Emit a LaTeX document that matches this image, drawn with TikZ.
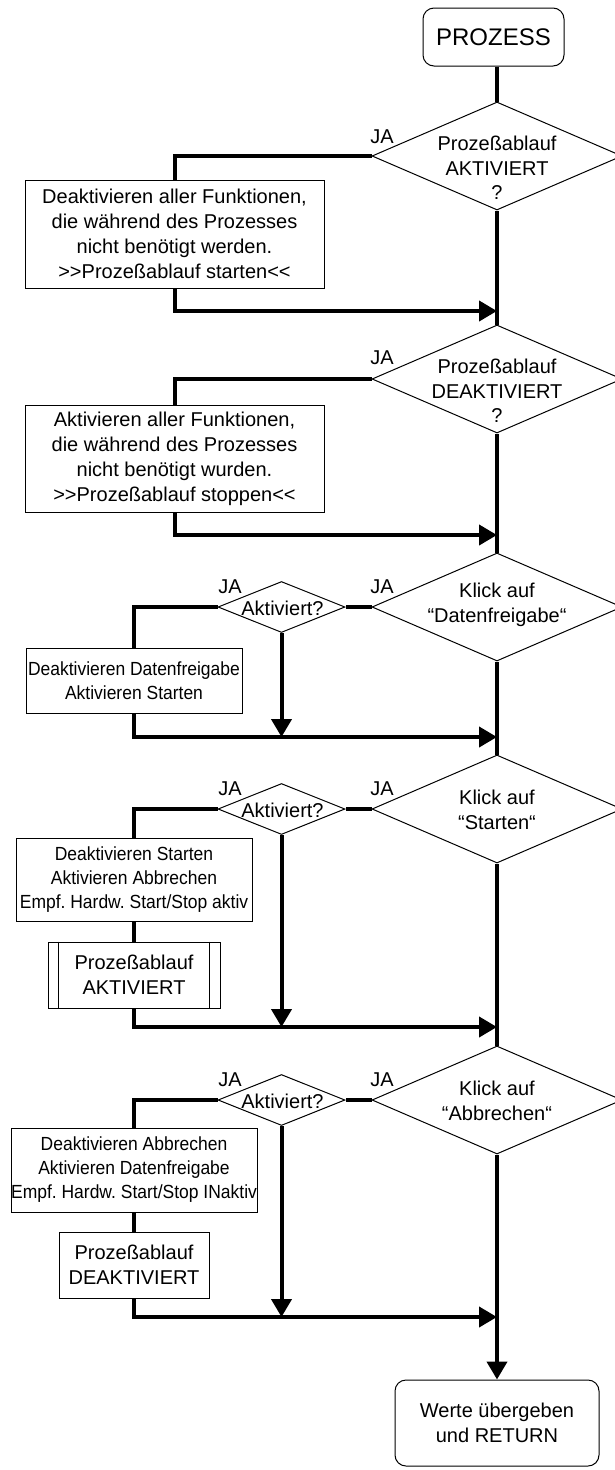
\documentclass[tikz,border=0pt]{standalone}
\usepackage{fontspec}
\setmainfont{Liberation Sans}
\newfontfamily\narrowsans[FakeStretch=0.92]{Liberation Sans}
\frenchspacing
\usetikzlibrary{shapes.geometric,arrows.meta,calc}
\begin{document}
\begin{tikzpicture}[x=1pt,y=-1pt,
  flow/.style={line width=4pt},
  arr/.style={flow,-{Triangle[length=18pt,width=20pt]}},
  shape line/.style={draw,line width=1pt},
  box/.style={shape line,rectangle,inner sep=0pt,align=center,
    font=\fontsize{20}{25}\selectfont},
  smallbox/.style={box,font=\narrowsans\fontsize{19}{24}\selectfont},
  term/.style={box,rounded corners=11pt},
  bigdia/.style={shape line,diamond,inner sep=0pt,minimum width=250pt,minimum height=108pt},
  smalldia/.style={shape line,diamond,inner sep=0pt,minimum width=127pt,minimum height=51pt},
  dtext/.style={align=center,inner sep=0pt,font=\fontsize{20}{24.5}\selectfont},
  ja/.style={inner sep=0pt,font=\fontsize{20}{24}\selectfont}
]
\useasboundingbox (0,0) rectangle (615,1470);

% start
\node[term,minimum width=141pt,minimum height=58pt,font=\fontsize{24}{28}\selectfont] (start) at (493.5,37) {PROZESS};

% main decisions
\node[bigdia] (d1) at (497,156) {};
\node[dtext] (d1t) at (497,168) {Prozeßablauf\\AKTIVIERT\\?};
\node[ja] (ja1) at (382,137) {JA};

\node[bigdia] (d2) at (497,379) {};
\node[dtext] (d2t) at (497,391) {Prozeßablauf\\DEAKTIVIERT\\?};
\node[ja] (ja2) at (382,358) {JA};

\node[bigdia] (d3) at (497,607) {};
\node[dtext] (d3t) at (497,605) {Klick auf\\“Datenfreigabe“};
\node[ja] (ja3) at (382,587) {JA};

\node[bigdia] (d4) at (497,809) {};
\node[dtext] (d4t) at (497,810) {Klick auf\\“Starten“};
\node[ja] (ja4) at (382,789) {JA};

\node[bigdia] (d5) at (497,1100) {};
\node[dtext] (d5t) at (497,1101) {Klick auf\\“Abbrechen“};
\node[ja] (ja5) at (382,1080) {JA};

% small checks
\node[smalldia] (s3) at (281.5,607) {};
\node[dtext] (s3t) at (282.5,608) {Aktiviert?};
\node[ja] (js3) at (230,587) {JA};

\node[smalldia] (s4) at (281.5,809) {};
\node[dtext] (s4t) at (282.5,810) {Aktiviert?};
\node[ja] (js4) at (230,789) {JA};

\node[smalldia] (s5) at (281.5,1100) {};
\node[dtext] (s5t) at (282.5,1101) {Aktiviert?};
\node[ja] (js5) at (230,1080) {JA};

% action boxes
\node[box,minimum width=299pt,minimum height=108pt] (b1) at (174.5,234)
  {Deaktivieren aller Funktionen,\\die während des Prozesses\\nicht benötigt werden.\\>{}>Prozeßablauf starten<{}<};
\node[box,minimum width=299pt,minimum height=107pt] (b2) at (174.5,458.5)
  {Aktivieren aller Funktionen,\\die während des Prozesses\\nicht benötigt wurden.\\>{}>Prozeßablauf stoppen<{}<};
\node[smallbox,minimum width=216pt,minimum height=65pt] (b3) at (134,680.5)
  {Deaktivieren Datenfreigabe\\Aktivieren Starten};
\node[smallbox,minimum width=236pt,minimum height=83pt] (b4) at (134,879.5)
  {Deaktivieren Starten\\Aktivieren Abbrechen\\Empf. Hardw. Start/Stop aktiv};
\node[box,minimum width=172pt,minimum height=66pt] (b4b) at (134,975)
  {Prozeßablauf\\AKTIVIERT};
\draw[line width=1pt] ([xshift=11pt]b4b.north west) -- ([xshift=11pt]b4b.south west);
\draw[line width=1pt] ([xshift=-11pt]b4b.north east) -- ([xshift=-11pt]b4b.south east);
\node[smallbox,minimum width=246pt,minimum height=84pt] (b5) at (134,1170)
  {Deaktivieren Abbrechen\\Aktivieren Datenfreigabe\\Empf. Hardw. Start/Stop INaktiv};
\node[box,minimum width=150pt,minimum height=66pt] (b5b) at (134,1265)
  {Prozeßablauf\\DEAKTIVIERT};

% end
\node[term,minimum width=204pt,minimum height=86pt] (end) at (497,1423)
  {Werte übergeben\\und RETURN};

% junctions on the main line
\coordinate (j1) at (497,311);
\coordinate (j2) at (497,535);
\coordinate (j3) at (497,737);
\coordinate (j4) at (497,1027);
\coordinate (j5) at (497,1317);

% main line
\draw[flow] (start.south -| d1.north) -- (d1.north);
\draw[flow] (d1.south) -- (d2.north);
\draw[flow] (d2.south) -- (d3.north);
\draw[flow] (d3.south) -- (d4.north);
\draw[flow] (d4.south) -- (d5.north);
\draw[arr] (d5.south) -- (end.north);

% section 1
\draw[flow] (d1.west) -| (b1.north);
\draw[arr] (b1.south) |- (j1);
% section 2
\draw[flow] (d2.west) -| (b2.north);
\draw[arr] (b2.south) |- (j2);
% section 3
\draw[flow] (d3.west) -- (s3.east);
\draw[flow] (s3.west) -| (b3.north);
\draw[arr] (b3.south) |- (j3);
\draw[arr] (s3.south) -- (s3.south |- j3);
% section 4
\draw[flow] (d4.west) -- (s4.east);
\draw[flow] (s4.west) -| (b4.north);
\draw[flow] (b4.south) -- (b4b.north);
\draw[arr] (b4b.south) |- (j4);
\draw[arr] (s4.south) -- (s4.south |- j4);
% section 5
\draw[flow] (d5.west) -- (s5.east);
\draw[flow] (s5.west) -| (b5.north);
\draw[flow] (b5.south) -- (b5b.north);
\draw[arr] (b5b.south) |- (j5);
\draw[arr] (s5.south) -- (s5.south |- j5);
\end{tikzpicture}
\end{document}
